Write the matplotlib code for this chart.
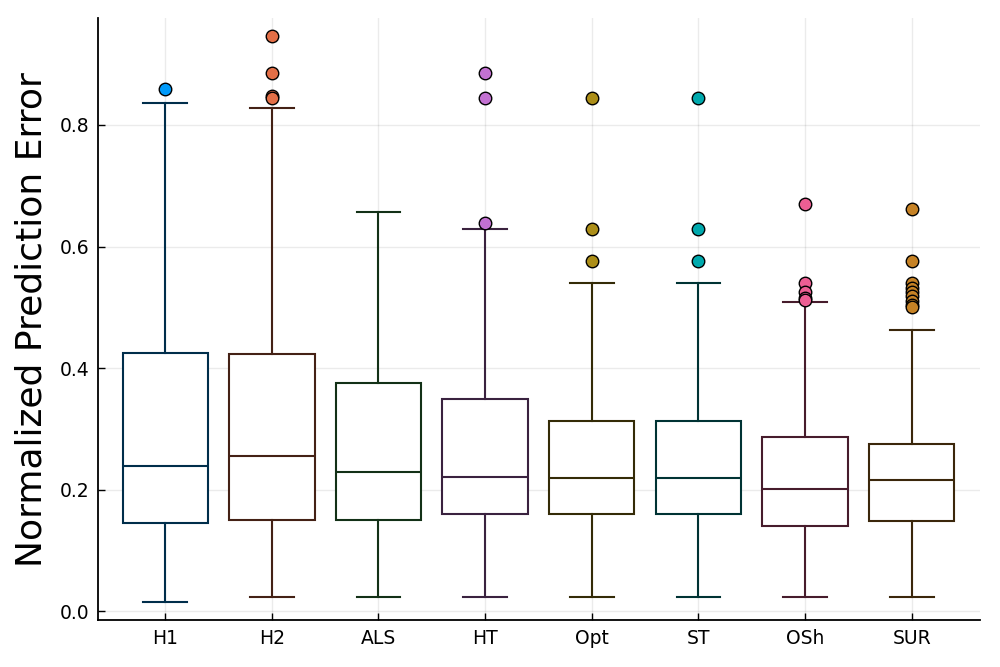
import numpy as np
import matplotlib
matplotlib.use('Agg')
import matplotlib.pyplot as plt

# boxplot summary values
methods = ['H1', 'H2', 'ALS', 'HT', 'Opt', 'ST', 'OSh', 'SUR']
whis_lo = [0.015, 0.023, 0.024, 0.023, 0.023, 0.023, 0.023, 0.023]
q1 = [0.146, 0.151, 0.151, 0.160, 0.160, 0.160, 0.140, 0.148]
median = [0.239, 0.255, 0.229, 0.221, 0.219, 0.219, 0.202, 0.216]
q3 = [0.425, 0.423, 0.375, 0.349, 0.313, 0.313, 0.287, 0.275]
whis_hi = [0.836, 0.828, 0.657, 0.629, 0.540, 0.540, 0.509, 0.463]
outliers = [
    [0.859],
    [0.947, 0.886, 0.848, 0.844],
    [],
    [0.886, 0.844, 0.638],
    [0.844, 0.629, 0.576],
    [0.844, 0.629, 0.576],
    [0.670, 0.540, 0.525, 0.516, 0.512],
    [0.662, 0.576, 0.540, 0.532, 0.525, 0.518, 0.510, 0.504, 0.500],
]

palette = ['#009AFA', '#E36F47', '#3EA44E', '#C371D2',
           '#AC8E18', '#00A9AD', '#ED5E93', '#C68225']

fig = plt.figure(figsize=(10, 6.67), dpi=100)
ax = fig.add_axes([0.098, 0.07, 0.882, 0.903])

for i, name in enumerate(methods):
    col = np.array(matplotlib.colors.to_rgb(palette[i]))
    dark = tuple(col * 0.3)
    stats = [dict(label=name, whislo=whis_lo[i], q1=q1[i], med=median[i],
                  q3=q3[i], whishi=whis_hi[i], fliers=outliers[i])]
    ax.bxp(stats, positions=[i + 1], widths=0.8, patch_artist=True,
           boxprops=dict(facecolor='white', edgecolor=dark, linewidth=1.5),
           medianprops=dict(color=dark, linewidth=1.5),
           whiskerprops=dict(color=dark, linewidth=1.5),
           capprops=dict(color=dark, linewidth=1.5),
           capwidths=0.41,
           flierprops=dict(marker='o', markerfacecolor=palette[i],
                           markeredgecolor='black', markersize=9,
                           markeredgewidth=1.0),
           zorder=3)

ax.set_xlim(0.37, 8.64)
ax.set_ylim(-0.0148, 0.976)
ax.set_xticks(range(1, 9))
ax.set_xticklabels(methods)
ax.set_yticks([0.0, 0.2, 0.4, 0.6, 0.8])
ax.set_yticklabels(['0.0', '0.2', '0.4', '0.6', '0.8'])
ax.tick_params(direction='in', labelsize=13.5, length=5, width=1.0, pad=6)
ax.grid(True, color='black', alpha=0.08, linewidth=1.0)
ax.set_axisbelow(True)
for s in ['top', 'right']:
    ax.spines[s].set_visible(False)
for s in ['left', 'bottom']:
    ax.spines[s].set_linewidth(1.3)

ax.set_ylabel('Normalized Prediction Error', fontsize=26, labelpad=8)

fig.savefig('out.png', dpi=100)
